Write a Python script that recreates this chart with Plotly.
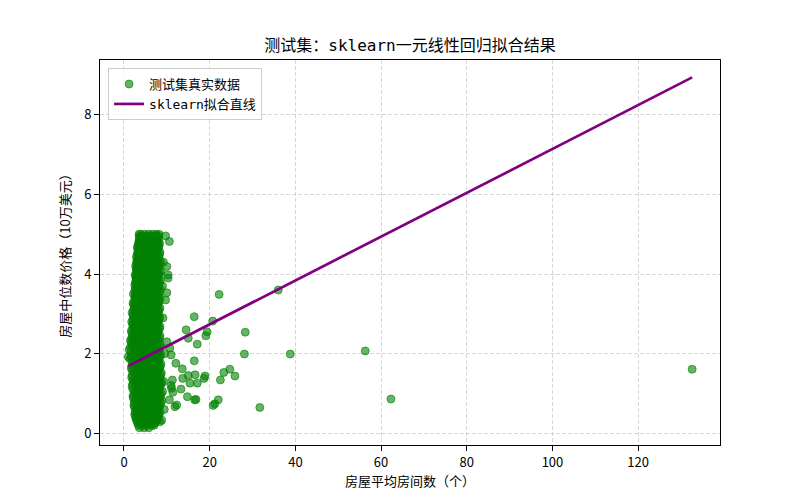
import plotly.graph_objects as go

# ---- data ----
# dense cluster: each row has one y value (10万美元) and several x values (rooms)
row_y = [0.14, 0.25, 0.36, 0.47, 0.59, 0.70, 0.82, 0.93, 1.05, 1.17, 1.28, 1.40,
         1.52, 1.63, 1.75, 1.87, 1.98, 2.10, 2.22, 2.33, 2.45, 2.57, 2.68, 2.80,
         2.92, 3.03, 3.15, 3.27, 3.38, 3.50, 3.62, 3.73, 3.85, 3.97, 4.08, 4.20,
         4.32, 4.43, 4.55, 4.67, 4.78, 4.90, 5.00]
row_x = [
    [3.6, 4.7, 5.8],
    [3.2, 4.2, 5.2, 6.2, 7.2],
    [2.8, 3.8, 4.8, 5.8, 6.8, 7.8],
    [2.5, 3.4, 4.4, 5.4, 6.4, 7.4, 8.2],
    [2.9, 3.9, 4.9, 5.9, 6.9, 7.9],
    [2.3, 3.4, 4.4, 5.4, 6.4, 7.4, 8.4],
    [2.8, 3.8, 4.8, 5.9, 6.9, 7.9, 8.8],
    [2.1, 3.3, 4.3, 5.3, 6.4, 7.4, 8.5],
    [2.6, 3.7, 4.8, 5.8, 6.9, 7.9, 9.0],
    [1.9, 3.2, 4.3, 5.3, 6.3, 7.4, 8.4],
    [2.5, 3.7, 4.7, 5.8, 6.8, 7.9, 8.8],
    [1.8, 3.1, 4.2, 5.2, 6.3, 7.3, 8.4],
    [2.4, 3.6, 4.7, 5.7, 6.8, 7.8, 8.7],
    [1.7, 3.0, 4.1, 5.2, 6.2, 7.3, 8.3],
    [2.3, 3.5, 4.6, 5.7, 6.7, 7.8, 8.6],
    [1.4, 2.9, 4.0, 5.1, 6.2, 7.2, 8.2],
    [2.1, 3.4, 4.5, 5.6, 6.7, 7.7, 8.6],
    [1.2, 2.7, 3.9, 5.0, 6.1, 7.2, 8.2],
    [1.9, 3.2, 4.4, 5.5, 6.6, 7.7, 8.5],
    [1.5, 2.6, 3.8, 4.9, 6.0, 7.1, 8.1],
    [2.1, 3.1, 4.3, 5.4, 6.5, 7.6, 8.4],
    [1.7, 2.6, 3.7, 4.8, 5.9, 7.0, 8.0],
    [2.2, 3.1, 4.2, 5.3, 6.4, 7.5, 8.4],
    [1.8, 2.7, 3.7, 4.8, 5.9, 7.0, 8.0],
    [2.3, 3.2, 4.2, 5.3, 6.4, 7.5, 8.3],
    [1.9, 2.8, 3.8, 4.8, 5.9, 7.0, 8.0],
    [2.4, 3.3, 4.3, 5.4, 6.4, 7.5, 8.4],
    [2.1, 2.9, 3.9, 4.9, 6.0, 7.0, 8.0],
    [2.6, 3.4, 4.4, 5.4, 6.5, 7.5, 8.4],
    [2.2, 3.0, 4.0, 5.0, 6.0, 7.1, 8.1],
    [2.7, 3.5, 4.5, 5.5, 6.5, 7.6, 8.5],
    [2.5, 3.1, 4.1, 5.1, 6.1, 7.1, 8.1],
    [2.8, 3.6, 4.6, 5.6, 6.6, 7.6, 8.5],
    [2.6, 3.2, 4.1, 5.1, 6.1, 7.2, 8.2],
    [2.9, 3.7, 4.6, 5.6, 6.6, 7.7, 8.6],
    [2.7, 3.3, 4.2, 5.2, 6.2, 7.2, 8.2],
    [3.0, 3.8, 4.7, 5.7, 6.7, 7.7, 8.5],
    [2.9, 3.4, 4.3, 5.2, 6.2, 7.2, 8.1],
    [3.2, 3.9, 4.8, 5.7, 6.7, 7.7, 8.4],
    [3.1, 3.5, 4.4, 5.3, 6.3, 7.2, 8.1],
    [3.4, 4.0, 4.9, 5.8, 6.8, 7.7, 8.3],
    [3.6, 4.4, 5.3, 6.2, 7.1, 8.0],
    [3.5, 3.9, 4.8, 5.7, 6.6, 7.5, 8.2],
]

# in-between rows of the same dense cluster
row_y2 = [0.20, 0.31, 0.42, 0.53, 0.65, 0.76, 0.88, 0.99, 1.11, 1.23, 1.34, 1.46,
          1.58, 1.69, 1.81, 1.93, 2.04, 2.16, 2.28, 2.39, 2.51, 2.63, 2.74, 2.86,
          2.97, 3.09, 3.21, 3.32, 3.44, 3.56, 3.67, 3.79, 3.91, 4.02, 4.14, 4.26,
          4.37, 4.49, 4.61, 4.72, 4.84, 4.95]
row_x2 = [
    [3.4, 4.4, 5.4, 6.5, 7.0],
    [3.0, 3.9, 4.9, 5.9, 6.9, 7.6],
    [2.7, 3.3, 4.3, 5.3, 6.3, 7.3, 8.0],
    [2.6, 3.6, 4.6, 5.6, 6.6, 7.7, 8.4],
    [2.5, 3.1, 4.1, 5.1, 6.1, 7.1, 8.1],
    [2.4, 3.6, 4.6, 5.6, 6.6, 7.7, 8.6],
    [2.2, 3.0, 4.1, 5.1, 6.2, 7.2, 8.2],
    [2.3, 3.5, 4.5, 5.6, 6.6, 7.7, 8.7],
    [2.1, 3.0, 4.0, 5.1, 6.1, 7.1, 8.2],
    [2.0, 3.4, 4.5, 5.5, 6.6, 7.6, 8.6],
    [2.1, 2.9, 4.0, 5.0, 6.1, 7.1, 8.1],
    [1.9, 3.3, 4.4, 5.5, 6.5, 7.6, 8.6],
    [2.0, 2.8, 3.9, 5.0, 6.0, 7.1, 8.1],
    [1.8, 3.2, 4.4, 5.4, 6.5, 7.5, 8.5],
    [1.9, 2.7, 3.8, 4.9, 6.0, 7.0, 8.0],
    [1.7, 3.1, 4.3, 5.4, 6.4, 7.5, 8.4],
    [1.6, 2.6, 3.7, 4.8, 5.9, 7.0, 8.0],
    [1.5, 3.0, 4.2, 5.3, 6.4, 7.4, 8.4],
    [1.7, 2.5, 3.6, 4.7, 5.8, 6.9, 7.9],
    [1.8, 2.9, 4.1, 5.2, 6.3, 7.4, 8.3],
    [1.9, 2.4, 3.6, 4.7, 5.8, 6.9, 7.9],
    [2.0, 2.9, 4.0, 5.1, 6.2, 7.3, 8.3],
    [2.0, 2.5, 3.5, 4.6, 5.7, 6.8, 7.9],
    [2.1, 3.0, 4.0, 5.1, 6.2, 7.3, 8.2],
    [2.1, 2.6, 3.6, 4.6, 5.7, 6.8, 7.9],
    [2.2, 3.1, 4.1, 5.1, 6.2, 7.3, 8.2],
    [2.3, 2.7, 3.7, 4.7, 5.7, 6.8, 7.9],
    [2.4, 3.2, 4.2, 5.2, 6.2, 7.3, 8.2],
    [2.5, 2.8, 3.7, 4.7, 5.8, 6.8, 7.9],
    [2.5, 3.3, 4.2, 5.2, 6.3, 7.3, 8.3],
    [2.7, 3.1, 3.8, 4.8, 5.8, 6.8, 7.9],
    [2.7, 3.4, 4.3, 5.3, 6.3, 7.3, 8.3],
    [2.8, 3.2, 3.9, 4.8, 5.8, 6.9, 7.9],
    [2.8, 3.5, 4.4, 5.4, 6.4, 7.4, 8.4],
    [2.9, 3.3, 4.0, 4.9, 5.9, 6.9, 7.9],
    [2.9, 3.6, 4.5, 5.4, 6.4, 7.4, 8.4],
    [3.1, 3.4, 4.1, 5.0, 6.0, 7.0, 7.9],
    [3.1, 3.7, 4.5, 5.5, 6.4, 7.4, 8.3],
    [3.3, 3.6, 4.2, 5.1, 6.0, 7.0, 7.9],
    [3.3, 3.8, 4.6, 5.5, 6.5, 7.4, 8.2],
    [3.5, 4.1, 4.9, 5.8, 6.7, 7.6, 8.0],
    [3.6, 4.2, 5.0, 5.9, 6.8, 7.7, 8.1],
]

# scattered points outside the dense cluster
outlier_x = [1.0, 9.7, 10.6, 10.0, 10.3, 10.3, 10.0, 9.7, 22.2, 36.0, 16.4, 20.7,
             14.5, 15.0, 19.4, 19.1, 28.3, 17.1, 10.0, 10.7, 11.0, 28.1, 38.8,
             56.3, 16.4, 12.1, 13.6, 24.7, 23.3, 25.9, 22.5, 15.0, 16.6, 18.9,
             18.7, 13.7, 15.4, 17.1, 11.3, 11.1, 13.3, 14.8, 16.5, 16.8, 22.0,
             21.2, 20.8, 31.7, 62.3, 132.6, 11.9, 12.3, 11.4, 11.0, 10.6, 8.8, 8.4,
             9.2, 9.1, 9.3, 9.4, 9.0, 9.5]
outlier_y = [1.92, 4.96, 4.82, 4.19, 3.98, 3.90, 3.53, 3.35, 3.49, 3.60, 2.93, 2.82,
             2.60, 2.39, 2.55, 2.45, 2.54, 2.24, 2.30, 2.14, 1.97, 1.99, 1.99,
             2.07, 1.82, 1.76, 1.62, 1.61, 1.53, 1.44, 1.34, 1.45, 1.47, 1.44,
             1.38, 1.38, 1.26, 1.26, 1.34, 1.13, 1.11, 0.92, 0.84, 0.85, 0.84,
             0.74, 0.70, 0.65, 0.86, 1.61, 0.67, 0.71, 1.03, 1.20, 0.84, 0.33, 0.29,
             4.30, 2.90, 1.30, 0.60, 3.70, 2.00]

# fitted sklearn line parameters
fit_slope = 0.0551
fit_intercept = 1.636

x_ticks = [0, 20, 40, 60, 80, 100, 120]
y_ticks = [0, 2, 4, 6, 8]

# ---- build the series ----
test_x = []
test_y = []
for ys, xss in ((row_y, row_x), (row_y2, row_x2)):
    for yv, xs in zip(ys, xss):
        for xv in xs:
            test_x.append(xv)
            test_y.append(yv)
test_x += outlier_x
test_y += outlier_y

line_x = [min(test_x), max(test_x)]
line_y = [fit_intercept + fit_slope * v for v in line_x]

cjk = "Noto Sans CJK SC"
mono = "DejaVu Sans Mono, Noto Sans CJK SC"

fig = go.Figure()
fig.add_trace(go.Scatter(
    x=test_x, y=test_y, mode="markers", name="测试集真实数据",
    marker=dict(size=8, color="rgba(0,128,0,0.6)",
                line=dict(color="rgba(0,128,0,0.6)", width=1)),
))
fig.add_trace(go.Scatter(
    x=line_x, y=line_y, mode="lines", name="sklearn拟合直线",
    line=dict(color="#800080", width=2.7),
))

axis_common = dict(
    showline=True, mirror=True, linecolor="black", linewidth=1,
    ticks="outside", ticklen=5, tickcolor="black", tickwidth=1,
    showgrid=True, gridcolor="rgba(176,176,176,0.5)", griddash="4px,2px", gridwidth=1,
    zeroline=False, tickfont=dict(family=cjk, size=13, color="black"),
)

# the page body adds an 8px offset, so margins are shifted by 8px
fig.update_layout(
    width=800, height=500,
    margin=dict(l=92, r=88, t=52, b=63),
    paper_bgcolor="white", plot_bgcolor="white",
    title=dict(text="测试集：sklearn一元线性回归拟合结果",
               x=402 / 800, xanchor="center",
               y=1 - 37 / 500, yanchor="middle",
               font=dict(family=mono, size=16, color="black")),
    xaxis=dict(range=[-5.6, 139.1], tickvals=x_ticks,
               title=dict(text="房屋平均房间数（个）", standoff=3,
                          font=dict(family=cjk, size=13, color="black")),
               **axis_common),
    yaxis=dict(range=[-0.294, 9.38], tickvals=y_ticks,
               title=dict(text="房屋中位数价格（10万美元）", standoff=10,
                          font=dict(family=cjk, size=13, color="black")),
               **axis_common),
    legend=dict(x=0.013, y=0.979, xanchor="left", yanchor="top",
                bgcolor="rgba(255,255,255,0.8)", bordercolor="#cccccc", borderwidth=1,
                font=dict(family=mono, size=13, color="black"),
                tracegroupgap=0),
    showlegend=True,
)

fig.write_html("out.html")
